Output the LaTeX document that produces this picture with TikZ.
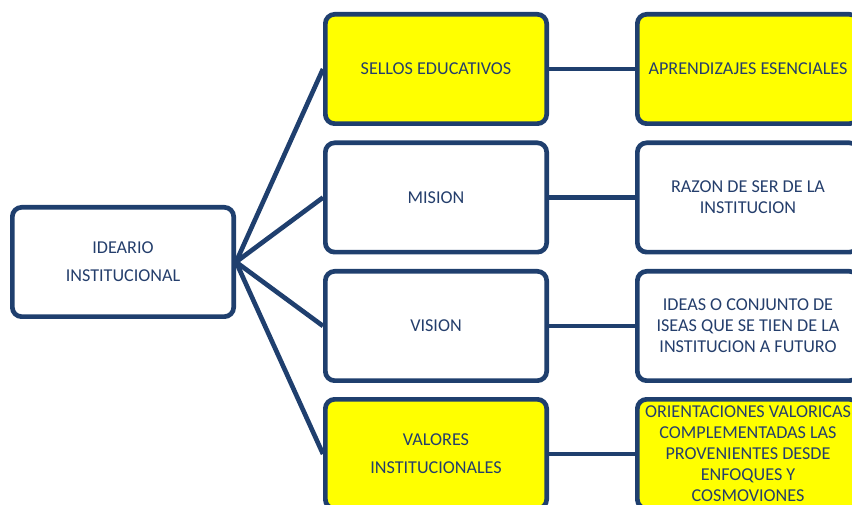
\documentclass[tikz,border=0pt]{standalone}
\usepackage{fontspec}
\setmainfont{Carlito}
\definecolor{navy}{RGB}{31,63,110}
\definecolor{navytext}{RGB}{36,62,108}
\definecolor{boxyellow}{RGB}{255,255,0}
\tikzset{every picture/.style={line width=0.75pt}}
\tikzset{
  ideabox/.style={draw=navy, line width=3.5pt, rounded corners=7pt, fill=white,
    minimum width=166pt, minimum height=82pt, align=center, text=navytext,
    font=\fontsize{13.6}{15.75}\selectfont, inner sep=2pt},
  yellowbox/.style={ideabox, fill=boxyellow},
  link/.style={draw=navy, line width=3.5pt}
}

\begin{document}
\begin{tikzpicture}[x=0.75pt,y=0.75pt,yscale=-1,xscale=1]
\useasboundingbox (0,0) rectangle (852,505);
\clip (0,0) rectangle (852,505);

% Root
\node [ideabox, font=\fontsize{13.6}{21}\selectfont] (ideario) at (123,262) {IDEARIO\\INSTITUCIONAL};

% Middle column
\node [yellowbox] (sellos) at (436,69) {SELLOS EDUCATIVOS};
\node [ideabox] (mision) at (436,197.5) {MISION};
\node [ideabox] (vision) at (436,326) {VISION};
\node [yellowbox, font=\fontsize{13.6}{21}\selectfont] (valores) at (436,454) {VALORES\\INSTITUCIONALES};

% Right column
\node [yellowbox] (aprendizajes) at (748,69) {APRENDIZAJES ESENCIALES};
\node [ideabox] (razon) at (748,197.5) {RAZON DE SER DE LA\\INSTITUCION};
\node [ideabox] (ideas) at (748,326) {IDEAS O CONJUNTO DE\\ISEAS QUE SE TIEN DE LA\\INSTITUCION A FUTURO};
\node [yellowbox] (orientaciones) at (748,454) {ORIENTACIONES VALORICAS\\COMPLEMENTADAS LAS\\PROVENIENTES DESDE\\ENFOQUES Y\\COSMOVIONES};

% Links
\foreach \m in {sellos,mision,vision,valores}
  \draw [link] (ideario.east) -- (\m.west);
\draw [link] (sellos.east) -- (aprendizajes.west);
\draw [link] (mision.east) -- (razon.west);
\draw [link] (vision.east) -- (ideas.west);
\draw [link] (valores.east) -- (orientaciones.west);

\end{tikzpicture}
\end{document}
